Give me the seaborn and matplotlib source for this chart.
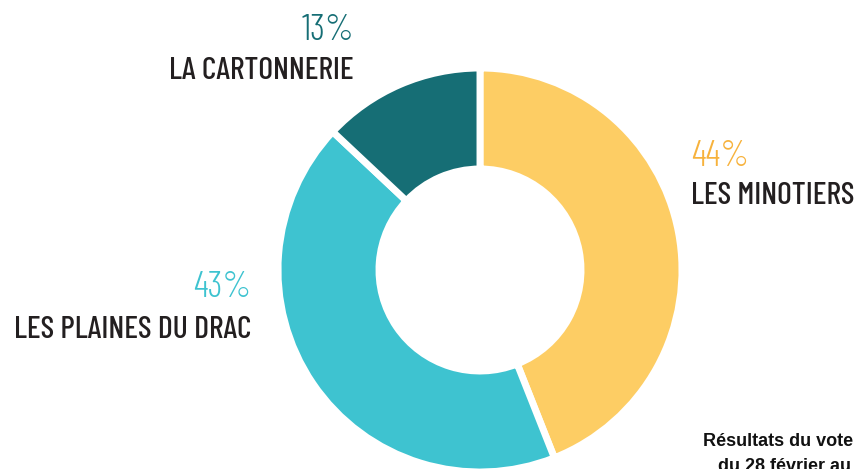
import matplotlib
matplotlib.use("Agg")
import matplotlib.pyplot as plt
import seaborn as sns
from matplotlib import font_manager
from matplotlib.font_manager import FontProperties
from matplotlib.textpath import TextPath

sns.set_theme(style="white")

names = ["LES MINOTIERS", "LES PLAINES DU DRAC", "LA CARTONNERIE"]
values = [44, 43, 13]
pct_labels = ["44%", "43%", "13%"]
colors = ["#FDCD64", "#3EC3D0", "#166E75"]
pct_colors = ["#F7B23C", "#3EC3D0", "#166E75"]

avail = {}
for f in font_manager.fontManager.ttflist:
    avail.setdefault(f.name, set()).add(f.weight)


def pick(cands):
    for name, w in cands:
        if name in avail and w in avail[name]:
            return name, w
    return "DejaVu Sans", 400


name_font, name_w = pick([("Barlow Condensed", 500), ("Saira ExtraCondensed", 500),
                          ("Fira Sans Extra Condensed", 500), ("Bebas Neue", 400)])
pct_font, pct_w = pick([("Barlow Condensed", 300), ("Saira ExtraCondensed", 275),
                        ("Yanone Kaffeesatz", 200)])

W, H = 855, 469
fig = plt.figure(figsize=(W / 100, H / 100), dpi=100)
ax = fig.add_axes([0, 0, 1, 1])

cx, cy, R = 480, H - 270, 202
ax.pie(values, colors=colors, startangle=90, counterclock=False,
       center=(cx, cy), radius=R, frame=True,
       wedgeprops=dict(width=R * 0.5, edgecolor="white", linewidth=5))
ax.set_xlim(0, W)
ax.set_ylim(0, H)
ax.set_aspect("equal")
ax.axis("off")

# label anchors (pixel coords from top): x, pct baseline, name baseline
lab = {
    0: dict(x=691, yp=166, yn=204, ha="left"),
    1: dict(x=251, yp=297, yn=338, ha="right"),
    2: dict(x=354, yp=40, yn=79, ha="right"),
}
name_target_w = {0: 160, 1: 240, 2: 185}


def glyph_box(text, font, weight, size=100):
    tp = TextPath((0, 0), text, size=size, prop=FontProperties(family=font, weight=weight))
    e = tp.get_extents()
    return e.width, e.height


# font sizes matched to text extents read in the reference (px -> pt)
fits_w = []
for i in range(3):
    w, h = glyph_box(names[i], name_font, name_w)
    fits_w.append(100 * name_target_w[i] / w * 0.72)
nw, nh = glyph_box("LA CARTONNERIE", name_font, name_w)
fs_h = 100 * 26 / nh * 0.72
name_fs = min(min(fits_w), fs_h)
pw, ph = glyph_box("13", pct_font, pct_w)
pct_fs = 100 * 26 / ph * 0.72

for i in range(3):
    p = lab[i]
    ax.text(p["x"], H - p["yp"], pct_labels[i], color=pct_colors[i],
            fontsize=pct_fs, fontweight=pct_w, family=[pct_font, "DejaVu Sans"],
            ha=p["ha"], va="baseline")
    ax.text(p["x"], H - p["yn"], names[i], color="#231F20",
            fontsize=name_fs, fontweight=name_w, family=[name_font, "DejaVu Sans"],
            ha=p["ha"], va="baseline")

ax.text(703, H - 441, "Résultats du vote", fontsize=13, fontweight="bold",
        family=["Liberation Sans", "DejaVu Sans"], color="#111111",
        ha="left", va="center")
ax.text(718, H - 466, "du 28 février au", fontsize=13, fontweight="bold",
        family=["Liberation Sans", "DejaVu Sans"], color="#111111",
        ha="left", va="center")

fig.savefig("out.png", dpi=100)
